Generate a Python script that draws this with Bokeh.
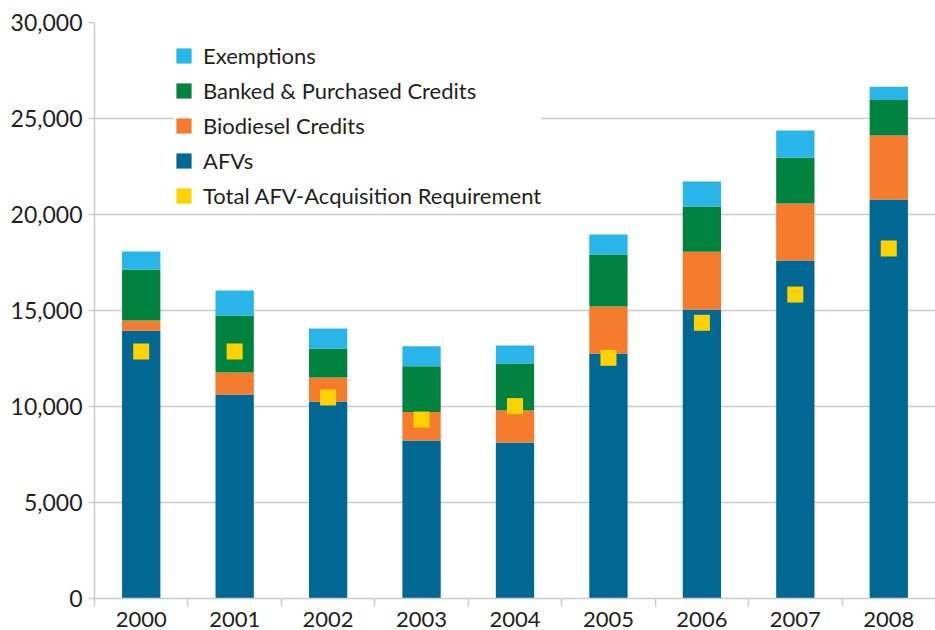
from bokeh.plotting import figure
from bokeh.models import (Range1d, FixedTicker, SingleIntervalTicker,
                          NumeralTickFormatter, Legend, LegendItem, ColumnDataSource)
from bokeh.embed import file_html
from bokeh.resources import INLINE

years = ["2000", "2001", "2002", "2003", "2004", "2005", "2006", "2007", "2008"]
afvs = [13950, 10625, 10260, 8230, 8125, 12760, 15050, 17600, 20780]
biodiesel = [530, 1145, 1250, 1490, 1665, 2450, 3005, 2970, 3335]
banked = [2655, 2970, 1510, 2380, 2450, 2710, 2365, 2400, 1855]
exemptions = [935, 1300, 1040, 1040, 940, 1040, 1300, 1405, 680]
requirement = [12865, 12865, 10470, 9320, 10020, 12535, 14360, 15830, 18230]

colors = ["#006892", "#f47c2c", "#00833e", "#29b5e8"]
yellow = "#ffd200"
grid = "#cccccc"
txt = "#231f20"
font = "Lato"

# category slots: each year occupies one unit on the x scale, centred at index + 0.5
slot = [i + 0.5 for i, _ in enumerate(years)]
source = ColumnDataSource(dict(x=slot, year=years, afvs=afvs, biodiesel=biodiesel,
                               banked=banked, exemptions=exemptions,
                               requirement=requirement))

p = figure(x_range=Range1d(0, len(years)), y_range=Range1d(0, 30000),
           width=935, height=630, output_backend="svg", toolbar_location=None,
           min_border_left=94, min_border_top=22,
           min_border_right=0, min_border_bottom=32)
p.outline_line_color = None
p.background_fill_color = "white"
p.border_fill_color = "white"

bars = p.vbar_stack(["afvs", "biodiesel", "banked", "exemptions"], x="x", width=0.41,
                    color=colors, line_color=None, source=source)
req = p.rect(x="x", y="requirement", width=16, height=16, width_units="screen",
             height_units="screen", fill_color=yellow, line_color=None, source=source)

# y axis
yax = p.yaxis[0]
yax.ticker = SingleIntervalTicker(interval=5000, num_minor_ticks=0)
yax.formatter = NumeralTickFormatter(format="0,0")
yax.axis_line_color = grid
yax.axis_line_width = 1.5
yax.major_tick_line_color = grid
yax.major_tick_line_width = 1.5
yax.major_tick_out = 6
yax.major_tick_in = 0
yax.minor_tick_line_color = None
yax.major_label_text_font = font
yax.major_label_text_font_size = "23px"
yax.major_label_text_color = txt
yax.major_label_standoff = 6

p.ygrid.ticker = SingleIntervalTicker(interval=5000)
p.ygrid.grid_line_color = grid
p.ygrid.grid_line_width = 1.5
p.xgrid.grid_line_color = None

# x axis: labels at category centres, tick marks at category boundaries
xax = p.xaxis[0]
xax.ticker = FixedTicker(ticks=slot, minor_ticks=list(range(len(years) + 1)))
xax.major_label_overrides = {c: y for c, y in zip(slot, years)}
xax.major_tick_line_color = None
xax.major_tick_out = 0
xax.major_tick_in = 0
xax.minor_tick_line_color = grid
xax.minor_tick_line_width = 1.5
xax.minor_tick_out = 8
xax.minor_tick_in = 0
xax.axis_line_color = grid
xax.axis_line_width = 1.5
xax.major_label_text_font = font
xax.major_label_text_font_size = "22px"
xax.major_label_text_color = txt
xax.major_label_standoff = 5

legend = Legend(items=[
    LegendItem(label="Exemptions", renderers=[bars[3]]),
    LegendItem(label="Banked & Purchased Credits", renderers=[bars[2]]),
    LegendItem(label="Biodiesel Credits", renderers=[bars[1]]),
    LegendItem(label="AFVs", renderers=[bars[0]]),
    LegendItem(label="Total AFV-Acquisition Requirement", renderers=[req]),
], location=(80, 389))
legend.label_text_font = font
legend.label_text_font_size = "22px"
legend.label_text_color = txt
legend.glyph_width = 19
legend.glyph_height = 19
legend.label_height = 19
legend.label_standoff = 10
legend.spacing = 8
legend.padding = 22
legend.margin = 0
legend.border_line_color = None
legend.background_fill_color = "white"
legend.background_fill_alpha = 1
p.add_layout(legend)

open("out.html", "w").write(file_html(p, INLINE))
